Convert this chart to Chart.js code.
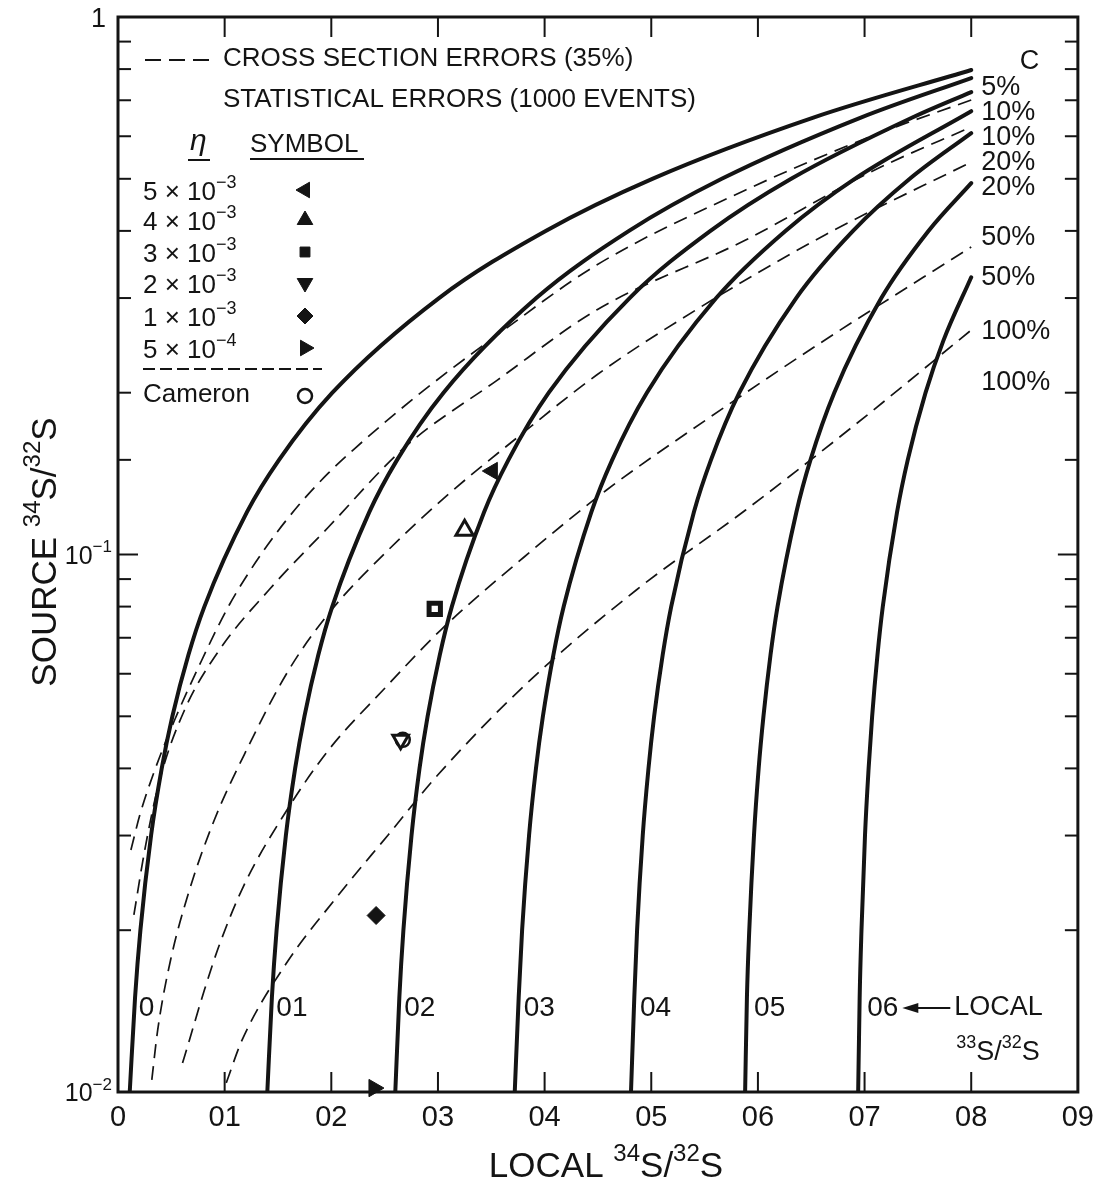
<!DOCTYPE html>
<html>
<head>
<meta charset="utf-8">
<script src="https://cdn.jsdelivr.net/npm/chart.js@4.4.0/dist/chart.umd.min.js"></script>
<style>
  html, body { margin: 0; padding: 0; background: #fff; }
  #wrap { width: 1103px; height: 1186px; }
</style>
</head>
<body>
<div id="wrap"><canvas id="myChart" width="1103" height="1186"></canvas></div>
<script>
// x axis: local 34S/32S, y axis: source 34S/32S (log)
const xTickLabels = ['0', '01', '02', '03', '04', '05', '06', '07', '08', '09'];

// solid curves, one per local 33S/32S value  [x, y]
const curveLabels = ['0', '01', '02', '03', '04', '05', '06'];
const local00 = [[0.0011,0.01],[0.0016,0.015],[0.0021,0.02],[0.0031,0.03],[0.0041,0.04],[0.0051,0.05],[0.0066,0.065],[0.0081,0.08],[0.0121,0.12],[0.0151,0.15],[0.0201,0.2],[0.0301,0.3],[0.0401,0.4],[0.0501,0.5],[0.0652,0.65],[0.08,0.797]];
const local01 = [[0.0140,0.01],[0.01443,0.015],[0.01487,0.02],[0.01574,0.03],[0.01661,0.04],[0.01748,0.05],[0.01878,0.065],[0.02009,0.08],[0.02357,0.12],[0.02617,0.15],[0.03052,0.2],[0.03922,0.3],[0.04791,0.4],[0.05661,0.5],[0.06965,0.65],[0.08,0.77]];
const local02 = [[0.0260,0.01],[0.02638,0.015],[0.02676,0.02],[0.02752,0.03],[0.02827,0.04],[0.02903,0.05],[0.03017,0.065],[0.0313,0.08],[0.03433,0.12],[0.03661,0.15],[0.04039,0.2],[0.04797,0.3],[0.05555,0.4],[0.06312,0.5],[0.07448,0.65],[0.08,0.725]];
const local03 = [[0.0372,0.01],[0.03757,0.015],[0.03789,0.02],[0.03854,0.03],[0.03919,0.04],[0.03984,0.05],[0.04082,0.065],[0.04179,0.08],[0.04439,0.12],[0.04634,0.15],[0.04959,0.2],[0.05609,0.3],[0.06258,0.4],[0.06908,0.5],[0.08,0.668]];
const local04 = [[0.0481,0.01],[0.04841,0.015],[0.04867,0.02],[0.0492,0.03],[0.04974,0.04],[0.05027,0.05],[0.05107,0.065],[0.05187,0.08],[0.054,0.12],[0.0556,0.15],[0.05826,0.2],[0.06359,0.3],[0.06892,0.4],[0.07424,0.5],[0.08,0.608]];
const local05 = [[0.0588,0.01],[0.05897,0.015],[0.05919,0.02],[0.05963,0.03],[0.06007,0.04],[0.06052,0.05],[0.06118,0.065],[0.06184,0.08],[0.06361,0.12],[0.06493,0.15],[0.06716,0.2],[0.07157,0.3],[0.07599,0.4],[0.08,0.491]];
const local06 = [[0.0694,0.01],[0.06954,0.015],[0.06971,0.02],[0.07004,0.03],[0.07038,0.04],[0.07071,0.05],[0.07121,0.065],[0.07171,0.08],[0.07305,0.12],[0.07405,0.15],[0.07572,0.2],[0.07739,0.25],[0.08,0.328]];

// dashed error curves (cross section errors 35%)
const errA = [[0.00121,0.0282],[0.00205,0.03277],[0.00345,0.03972],[0.00531,0.04921],[0.00764,0.06228],[0.01043,0.08054],[0.01369,0.1019],[0.01695,0.1236],[0.01974,0.1418],[0.02225,0.1578],[0.02812,0.198],[0.03557,0.2562],[0.04488,0.3456],[0.05885,0.4766],[0.07095,0.6033],[0.08,0.7008]];
const errB = [[0.00149,0.02135],[0.00251,0.0282],[0.00391,0.03806],[0.00624,0.05137],[0.0095,0.06642],[0.01415,0.0859],[0.01974,0.1125],[0.02691,0.1585],[0.03557,0.2111],[0.04488,0.2851],[0.05885,0.3847],[0.07095,0.5192],[0.08,0.6242]];
const errC = [[0.00317,0.01053],[0.00372,0.01304],[0.00493,0.0176],[0.0067,0.02376],[0.00903,0.03207],[0.01182,0.04236],[0.01601,0.06096],[0.02002,0.07884],[0.02533,0.1019],[0.03091,0.1291],[0.03715,0.1633],[0.04488,0.2157],[0.05419,0.2851],[0.06629,0.393],[0.08,0.5373]];
const errD = [[0.00605,0.01132],[0.0067,0.0125],[0.0081,0.01548],[0.0095,0.01877],[0.01182,0.02427],[0.01555,0.03277],[0.01974,0.04327],[0.02486,0.05596],[0.03026,0.07236],[0.03808,0.09894],[0.04581,0.1318],[0.05512,0.1779],[0.06629,0.2507],[0.08,0.3733]];
const errE = [[0.01015,0.0104],[0.01164,0.0125],[0.01574,0.0173],[0.02067,0.02325],[0.02533,0.03008],[0.02998,0.03888],[0.03836,0.05766],[0.0486,0.0859],[0.05885,0.121],[0.06909,0.1742],[0.08,0.2616]];

// computed points for each eta, plus Cameron abundances
const etaValues = ['5', '4', '3', '2', '1', '5'];
const etaPowers = ['\u22123', '\u22123', '\u22123', '\u22123', '\u22123', '\u22124'];
const eta5e3 = [[0.0351, 0.143]];
const eta4e3 = [[0.0325, 0.111]];
const eta3e3 = [[0.0297, 0.0792]];
const eta2e3 = [[0.0265, 0.0452]];
const eta1e3 = [[0.0242, 0.0213]];
const eta5e4 = [[0.0240, 0.01017]];
const cameron = [[0.0267, 0.0452]];

// labels at the right-hand ends of the curves
const endLabels = ['C', '5%', '10%', '10%', '20%', '20%', '50%', '50%', '100%', '100%'];
const endLabelAt = [0.825, 0.738, 0.663, 0.5955, 0.535, 0.4806, 0.388, 0.328, 0.2594, 0.2085];

const INK = '#141414';
const FONT = '"Liberation Sans", Arial, sans-serif';
const pts = arr => arr.map(p => ({ x: p[0], y: p[1] }));

function solid(arr) {
  return { data: pts(arr), showLine: true, borderColor: INK, borderWidth: 4, pointRadius: 0,
           cubicInterpolationMode: 'monotone', borderCapStyle: 'round' };
}
function dashed(arr) {
  return { data: pts(arr), showLine: true, borderColor: INK, borderWidth: 1.7, borderDash: [14, 8],
           pointRadius: 0, cubicInterpolationMode: 'monotone' };
}
function marker(arr, style, rot, filled, r, bw) {
  return { data: pts(arr), showLine: false, pointStyle: style, pointRotation: rot, pointRadius: r,
           pointBackgroundColor: filled ? INK : '#fff', pointBorderColor: INK,
           pointBorderWidth: bw, clip: false };
}

// text with raised parts: parts = [[text, isSup], ...]
function rich(ctx, parts, x, y, size, align) {
  const sub = Math.round(size * 0.68);
  let w = 0;
  parts.forEach(p => { ctx.font = (p[1] ? sub : size) + 'px ' + FONT; w += ctx.measureText(p[0]).width; });
  let cx = align === 'center' ? x - w / 2 : (align === 'right' ? x - w : x);
  ctx.textAlign = 'left';
  ctx.textBaseline = 'alphabetic';
  parts.forEach(p => {
    ctx.font = (p[1] ? sub : size) + 'px ' + FONT;
    ctx.fillText(p[0], cx, p[1] ? y - size * 0.45 : y);
    cx += ctx.measureText(p[0]).width;
  });
  return w;
}

function drawMark(ctx, style, rot, x, y, r, filled) {
  ctx.save();
  ctx.fillStyle = filled ? INK : '#fff';
  ctx.strokeStyle = INK;
  ctx.lineWidth = filled ? 1 : 2.5;
  Chart.helpers.drawPoint(ctx, { pointStyle: style, rotation: rot, radius: r, borderWidth: ctx.lineWidth }, x, y);
  ctx.restore();
}

function seg(ctx, x1, y1, x2, y2) {
  ctx.beginPath(); ctx.moveTo(x1, y1); ctx.lineTo(x2, y2); ctx.stroke();
}

const inkPlugin = {
  id: 'ink',
  afterDraw(chart) {
    const { ctx, chartArea: a } = chart;
    const xs = chart.scales.x, ys = chart.scales.y;
    ctx.save();
    ctx.strokeStyle = INK;
    ctx.fillStyle = INK;

    // frame and inward ticks
    ctx.lineWidth = 3;
    ctx.strokeRect(a.left, a.top, a.right - a.left, a.bottom - a.top);
    ctx.lineWidth = 2;
    xs.ticks.forEach(t => {
      if (t.value <= 0.0001 || t.value >= 0.0899) return;
      const px = xs.getPixelForValue(t.value);
      seg(ctx, px, a.bottom, px, a.bottom - 20);
      seg(ctx, px, a.top, px, a.top + 20);
    });
    ys.ticks.forEach(t => {
      const v = t.value;
      const lg = Math.log10(v);
      if (v <= 0.0100001 || v >= 0.99999) return;
      const major = Math.abs(lg - Math.round(lg)) < 1e-6;
      const len = major ? 20 : 13;
      const py = ys.getPixelForValue(v);
      seg(ctx, a.left, py, a.left + len, py);
      seg(ctx, a.right, py, a.right - len, py);
    });

    // y tick labels (decades only)
    ys.ticks.forEach(t => {
      const lg = Math.log10(t.value);
      if (Math.abs(lg - Math.round(lg)) > 1e-6) return;
      const py = ys.getPixelForValue(t.value);
      const e = Math.round(lg);
      if (e === 0) rich(ctx, [['1', false]], a.left - 12, py + 10, 27, 'right');
      else rich(ctx, [['10', false], ['\u2212' + (-e), true]], a.left - 6, py + 9, 25, 'right');
    });

    // axis titles
    rich(ctx, [['LOCAL ', false], ['34', true], ['S/', false], ['32', true], ['S', false]],
         606, 1177, 35, 'center');
    ctx.save();
    ctx.translate(56, 552);
    ctx.rotate(-Math.PI / 2);
    rich(ctx, [['SOURCE ', false], ['34', true], ['S/', false], ['32', true], ['S', false]], 0, 0, 35, 'center');
    ctx.restore();

    // labels at the curve ends
    ctx.textBaseline = 'middle';
    ctx.textAlign = 'left';
    ctx.font = '27px ' + FONT;
    endLabels.forEach((s, i) => {
      const py = ys.getPixelForValue(endLabelAt[i]);
      const px = s === 'C' ? a.right - 58 : xs.getPixelForValue(0.08) + 10;
      ctx.fillText(s, px, py);
    });

    // local 33S/32S labels at the foot of each solid curve
    const curves = [local00, local01, local02, local03, local04, local05, local06];
    const labelY = ys.getPixelForValue(0.01433);
    ctx.font = '28px ' + FONT;
    let lastEnd = 0;
    curves.forEach((c, i) => {
      const px = xs.getPixelForValue(c[0][0]) + 9;
      ctx.fillText(curveLabels[i], px, labelY);
      lastEnd = px + ctx.measureText(curveLabels[i]).width;
    });
    // arrow and caption
    ctx.lineWidth = 2;
    seg(ctx, lastEnd + 12, labelY, lastEnd + 52, labelY);
    ctx.beginPath();
    ctx.moveTo(lastEnd + 4, labelY);
    ctx.lineTo(lastEnd + 20, labelY - 5);
    ctx.lineTo(lastEnd + 20, labelY + 5);
    ctx.closePath();
    ctx.fill();
    ctx.font = '27px ' + FONT;
    ctx.fillText('LOCAL', lastEnd + 56, labelY);
    rich(ctx, [['33', true], ['S/', false], ['32', true], ['S', false]], lastEnd + 58, labelY + 52, 27, 'left');

    // key, upper left
    ctx.lineWidth = 2;
    ctx.setLineDash([16, 8]);
    seg(ctx, 145, 60, 214, 60);
    ctx.setLineDash([]);
    ctx.textBaseline = 'middle';
    ctx.font = '26px ' + FONT;
    ctx.fillText('CROSS SECTION ERRORS (35%)', 223, 59);
    ctx.fillText('STATISTICAL ERRORS (1000 EVENTS)', 223, 100);

    ctx.font = 'italic 30px ' + FONT;
    ctx.fillText('\u03b7', 190, 142);
    ctx.font = '26px ' + FONT;
    ctx.fillText('SYMBOL', 250, 145);
    ctx.lineWidth = 2;
    seg(ctx, 188, 160, 210, 160);
    seg(ctx, 250, 159, 364, 159);

    const rowY = [190, 220, 252, 283, 316, 348];
    const keyMarks = [['triangle', -90, 9], ['triangle', 0, 9], ['rect', 0, 7], ['triangle', 180, 9], ['rectRot', 0, 8], ['triangle', 90, 9]];
    rowY.forEach((ry, i) => {
      rich(ctx, [[etaValues[i] + ' \u00d7 10', false], [etaPowers[i], true]], 143, ry + 10, 26, 'left');
      drawMark(ctx, keyMarks[i][0], keyMarks[i][1], 305, ry, keyMarks[i][2], true);
    });
    ctx.lineWidth = 2;
    ctx.setLineDash([12, 5]);
    seg(ctx, 143, 369, 322, 369);
    ctx.setLineDash([]);
    ctx.textBaseline = 'middle';
    ctx.font = '26px ' + FONT;
    ctx.fillText('Cameron', 143, 395);
    drawMark(ctx, 'circle', 0, 305, 396, 7, false);

    ctx.restore();
  }
};

new Chart(document.getElementById('myChart').getContext('2d'), {
  type: 'scatter',
  data: {
    datasets: [
      marker(eta5e3, 'triangle', -90, true, 10, 1),
      marker(eta4e3, 'triangle', 0, false, 10, 3),
      marker(eta3e3, 'rect', 0, false, 8, 5),
      marker(eta2e3, 'triangle', 180, false, 9, 3),
      marker(cameron, 'circle', 0, false, 7, 2.5),
      marker(eta1e3, 'rectRot', 0, true, 9, 1),
      marker(eta5e4, 'triangle', 90, true, 10, 1),
      solid(local00), solid(local01), solid(local02), solid(local03),
      solid(local04), solid(local05), solid(local06),
      dashed(errA), dashed(errB), dashed(errC), dashed(errD), dashed(errE)
    ]
  },
  options: {
    responsive: false,
    animation: false,
    layout: { padding: { top: 17, right: 18, left: 0, bottom: 0 } },
    plugins: { legend: { display: false }, tooltip: { enabled: false } },
    scales: {
      x: {
        type: 'linear', min: 0, max: 0.09,
        afterFit: s => { s.height = 94; },
        grid: { display: false, drawTicks: false },
        border: { display: false },
        ticks: {
          stepSize: 0.01, padding: 9, color: INK,
          font: { family: FONT, size: 29 },
          callback: (v, i) => xTickLabels[i]
        }
      },
      y: {
        type: 'logarithmic', min: 0.01, max: 1,
        afterFit: s => { s.width = 118; },
        grid: { display: false, drawTicks: false },
        border: { display: false },
        ticks: { display: false, autoSkip: false }
      }
    }
  },
  plugins: [inkPlugin]
});
</script>
</body>
</html>
